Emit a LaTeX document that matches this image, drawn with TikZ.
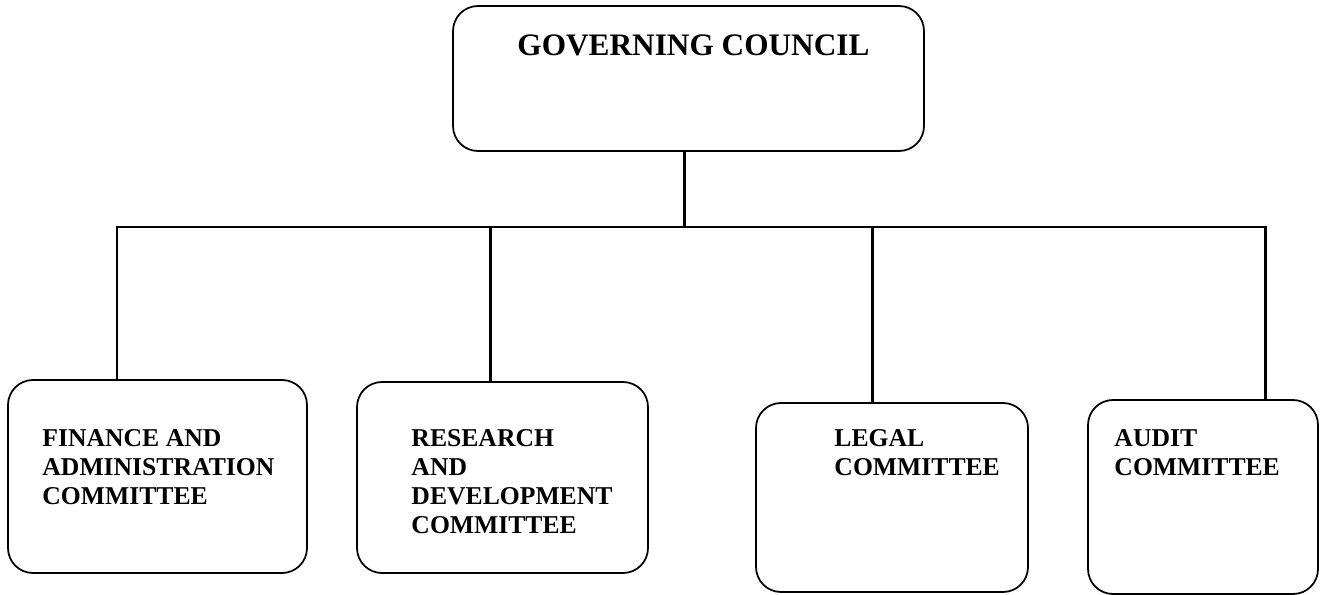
\documentclass[tikz,border=0pt]{standalone}
\usepackage{fontspec}
\setmainfont{Liberation Serif}
\usetikzlibrary{positioning}

\begin{document}
\begin{tikzpicture}[
    node distance=1cm,
    unit/.style={rectangle, rounded corners=0.5cm, draw=black, line width=1pt},
    caption/.style={inner sep=0pt, align=left, font=\bfseries\fontsize{14.6}{16.5}\selectfont},
    link/.style={line width=1.7pt}
]
    \useasboundingbox (0,0) rectangle (26.48,-11.9);

    \node[unit, minimum width=9.42cm, minimum height=2.9cm] (council) at (13.77,-1.57) {};
    \node[unit, minimum width=5.98cm, minimum height=3.86cm] (finance) at (3.15,-9.53) {};
    \node[unit, minimum width=5.82cm, minimum height=3.82cm] (research) at (10.05,-9.55) {};
    \node[unit, minimum width=5.44cm, minimum height=3.78cm] (legal) at (17.84,-9.95) {};
    \node[unit, minimum width=4.6cm, minimum height=3.88cm] (audit) at (24.06,-9.94) {};

    \node[caption, font=\bfseries\fontsize{17.8}{20}\selectfont, below right=0.58cm and 1.3cm of council.north west] (councilname) {GOVERNING COUNCIL};
    \node[caption, below right=1.0cm and 0.7cm of finance.north west] (financename) {FINANCE AND\\ADMINISTRATION\\COMMITTEE};
    \node[caption, below right=0.96cm and 1.1cm of research.north west] (researchname) {RESEARCH\\AND\\DEVELOPMENT\\COMMITTEE};
    \node[caption, below right=0.54cm and 1.58cm of legal.north west] (legalname) {LEGAL\\COMMITTEE};
    \node[caption, below right=0.6cm and 0.54cm of audit.north west] (auditname) {AUDIT\\COMMITTEE};

    \coordinate (hub) at (13.68,-4.54);
    \coordinate (tapfin) at (2.34,-4.54);
    \coordinate (tapres) at (9.8,-4.54);
    \coordinate (tapleg) at (17.44,-4.54);
    \coordinate (tapaud) at (25.3,-4.54);

    \draw[link] (council.south -| hub) -- (hub);
    \draw[link] (finance.north -| tapfin) -- (tapfin) -- (tapaud) -- (audit.north -| tapaud);
    \draw[link] (tapres) -- (research.north -| tapres);
    \draw[link] (tapleg) -- (legal.north -| tapleg);

\end{tikzpicture}
\end{document}
